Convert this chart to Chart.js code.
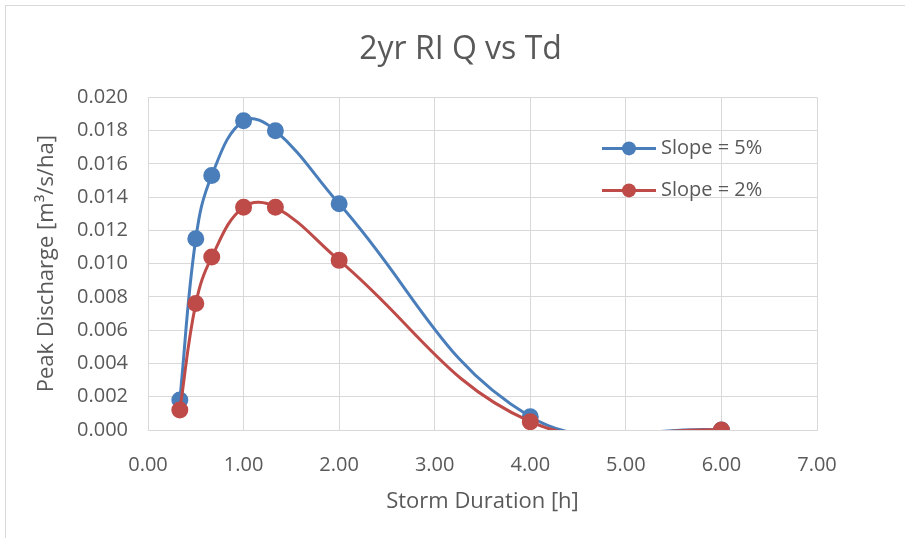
<!DOCTYPE html>
<html>
<head>
<meta charset="utf-8">
<script src="https://cdn.jsdelivr.net/npm/chart.js@4/dist/chart.umd.min.js"></script>
<style>
  html, body { margin: 0; padding: 0; background: #fff; overflow: hidden; }
  #wrap { position: absolute; left: 0; top: 0; width: 905px; height: 538px; }
  #frame { position: absolute; left: 5px; top: 5px; width: 920px; height: 560px; border: 1px solid #d9d9d9; }
  canvas { position: absolute; left: 0; top: 0; }
</style>
</head>
<body>
<div id="wrap">
  <div id="frame"></div>
  <canvas id="chart" width="905" height="538"></canvas>
</div>
<script>
const durations = [0.333, 0.5, 0.667, 1.0, 1.333, 2.0, 4.0, 6.0];
const slope5 = [0.0018, 0.0115, 0.0153, 0.0186, 0.0180, 0.0136, 0.0008, 0.0000];
const slope2 = [0.0012, 0.0076, 0.0104, 0.0134, 0.0134, 0.0102, 0.0005, 0.0000];
const seriesLabels = ["Slope = 5%", "Slope = 2%"];
const seriesColors = ["#4a7ebb", "#be4b48"];

const FONT = "'Open Sans', 'Noto Sans', sans-serif";
const TEXT = "#595959";
const GRID = "#d9d9d9";

function toPoints(ys) {
  return durations.map((x, i) => ({ x: x, y: ys[i] }));
}

// legend drawn inside the plot area, top right
const insideLegend = {
  id: "insideLegend",
  afterDraw(chart) {
    const ctx = chart.ctx;
    const area = chart.chartArea;
    chart.data.datasets.forEach((ds, i) => {
      const y = area.top + 51 + i * 42;
      const x0 = area.right - 215;
      ctx.save();
      ctx.strokeStyle = ds.borderColor;
      ctx.lineWidth = 3;
      ctx.beginPath();
      ctx.moveTo(x0, y);
      ctx.lineTo(x0 + 54, y);
      ctx.stroke();
      ctx.fillStyle = ds.backgroundColor;
      ctx.beginPath();
      ctx.arc(x0 + 27, y, 7, 0, Math.PI * 2);
      ctx.fill();
      ctx.fillStyle = TEXT;
      ctx.font = "20px " + FONT;
      ctx.textBaseline = "middle";
      ctx.fillText(ds.label, x0 + 59, y);
      ctx.restore();
    });
  }
};

new Chart(document.getElementById("chart"), {
  type: "scatter",
  data: {
    datasets: [slope5, slope2].map((ys, i) => ({
      label: seriesLabels[i],
      data: toPoints(ys),
      showLine: true,
      borderColor: seriesColors[i],
      backgroundColor: seriesColors[i],
      borderWidth: 3,
      pointRadius: 7,
      pointHoverRadius: 7,
      tension: 0.4,
      capBezierPoints: false,
      order: i === 0 ? 1 : 0   // red series sits on top
    }))
  },
  plugins: [insideLegend],
  options: {
    responsive: false,
    animation: false,
    layout: { padding: { left: 16, right: 0, top: 0, bottom: 0 } },
    plugins: {
      legend: { display: false },
      tooltip: { enabled: false },
      title: {
        display: true,
        text: "2yr RI Q vs Td",
        color: TEXT,
        font: { family: FONT, size: 32, weight: "normal" },
        padding: { top: 31, bottom: 28 }
      }
    },
    scales: {
      x: {
        type: "linear",
        min: 0,
        max: 7,
        afterFit(scale) { scale.height = 108; },
        border: { color: GRID },
        grid: { color: GRID, drawTicks: false },
        ticks: {
          stepSize: 1,
          color: TEXT,
          padding: 23,
          font: { family: FONT, size: 20 },
          callback: (v) => v.toFixed(2)
        },
        title: {
          display: true,
          text: "Storm Duration [h]",
          color: TEXT,
          font: { family: FONT, size: 22 },
          padding: { top: 0, bottom: 23 }
        }
      },
      y: {
        min: 0,
        max: 0.02,
        afterFit(scale) { scale.width = 132; },
        border: { color: GRID },
        grid: { color: GRID, drawTicks: false },
        ticks: {
          stepSize: 0.002,
          color: TEXT,
          padding: 20,
          font: { family: FONT, size: 20 },
          callback: (v) => v.toFixed(3)
        },
        title: {
          display: true,
          text: "Peak Discharge [m³/s/ha]",
          color: TEXT,
          font: { family: FONT, size: 22 },
          padding: { top: 18, bottom: 0 }
        }
      },
      // empty right margin so the title centres over the whole chart
      yRight: {
        position: "right",
        afterFit(scale) { scale.width = 88; },
        border: { display: false },
        grid: { display: false },
        ticks: { display: false }
      }
    }
  }
});
</script>
</body>
</html>
